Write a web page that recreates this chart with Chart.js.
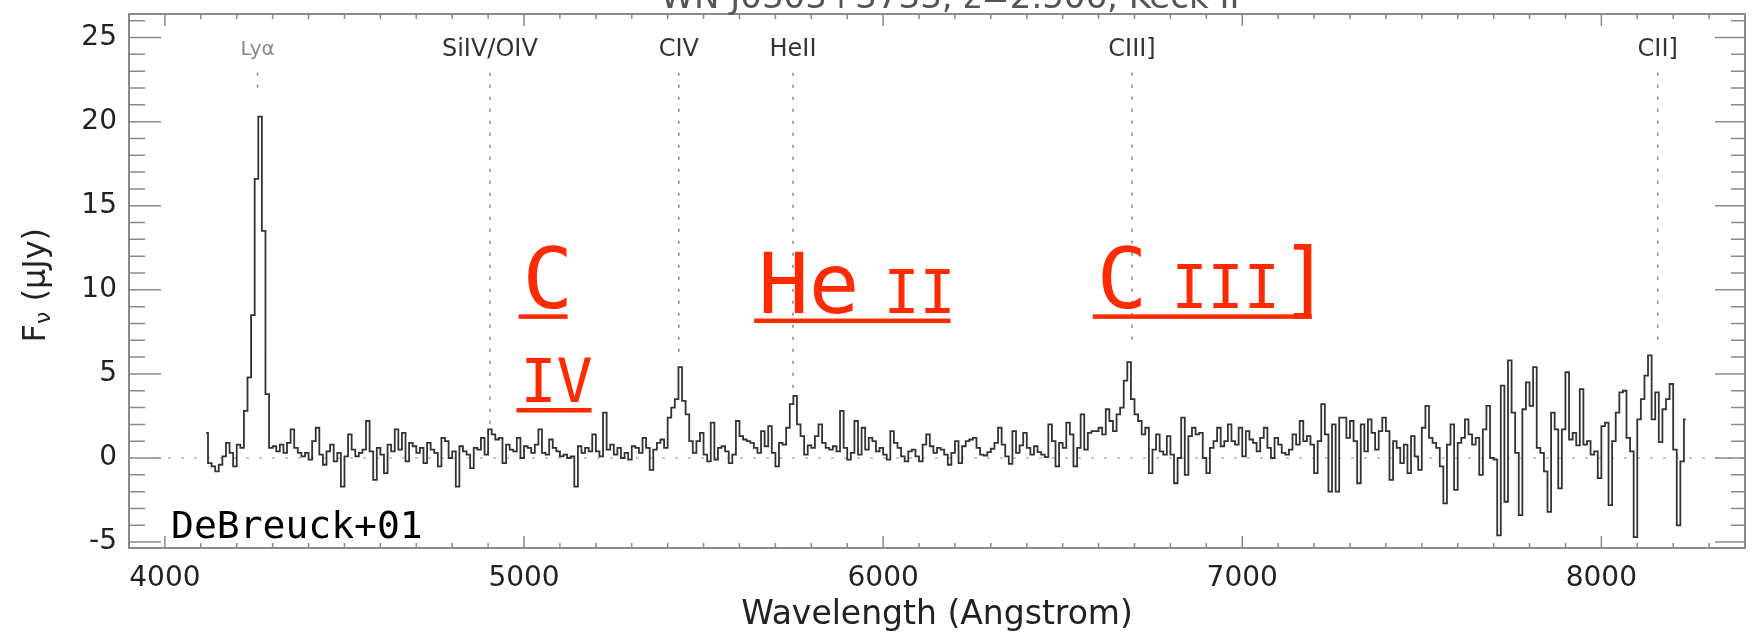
<!DOCTYPE html>
<html>
<head>
<meta charset="utf-8">
<title>Spectrum z=2.506</title>
<script src="https://cdn.jsdelivr.net/npm/chart.js@4.4.1/dist/chart.umd.min.js"></script>
<style>
  html, body { margin: 0; padding: 0; background: #fff; }
</style>
</head>
<body>
<canvas id="spec" width="1761" height="635"></canvas>
<script>
// spectrum, 10 A bins in six pieces
const binWidth = 10;

const blueStart = 4110; // Lya region
const fluxBlue = [
  1.5, -0.3, -0.5, -0.8, -0.4, 0.1, 0.9, 0.3, -0.5, 0.8,
  0.6, 2.8, 4.8, 8.5, 16.6, 20.3, 13.5, 3.8, 0.6, 0.7,
  0.4, 0.8, 0.3, 0.9, 1.7, 0.6, 0.3, 0.1, 0.3, -0.1,
  1.0, 1.8, 0.2, -0.4, 0.4, 0.8, -0.2, 0.3, -1.7, 0.1,
  1.4, 0.5, 0.1, 0.3, 0.5, 2.2, 0.4, -1.3, 0.6, 0.2,
  -0.9, 0.8, 0.4, 1.7, 0.5, 1.5, -0.2, 0.9, 0.7, 0.3,
  0.6, -0.3, 0.9, 0.5, 0.3, -0.5, 1.2, 1.0, 0.0
];

const civStart = 4800; // SiIV/OIV .. CIV
const fluxCIV = [
  0.4, -1.7, 0.7, 0.4, 0.2, -0.6, 0.6, 0.5, 1.2, 0.2,
  1.7, 1.4, 1.1, 1.2, -0.3, 0.8, 0.5, 0.4, 1.2, 0.0,
  0.7, 0.6, 0.3, 0.8, 1.7, 0.3, 0.2, 1.1, 0.6, 0.4,
  0.1, 0.2, 0.0, 0.1, -1.7, 0.7, 0.3, 0.6, 0.4, 1.4,
  0.4, 0.1, 2.7, 0.5, 0.8, 0.2, 0.6, 0.0, 0.3, -0.1,
  0.7, 0.6, 0.3, 1.2, 0.6, -0.7, 0.5, 0.9, 1.1, 0.6,
  2.4, 3.0, 3.5, 5.4, 3.4, 2.6, 1.0, 0.3, 1.0
];

const heiiStart = 5490; // HeII
const fluxHeII = [
  1.5, 0.2, -0.2, 2.1, -0.1, 0.6, 0.7, 0.4, -0.3, 0.2,
  2.2, 1.3, 1.1, 1.0, 0.9, 0.6, 0.3, 1.6, 0.7, 1.9,
  0.3, -0.5, 0.9, 0.8, 1.8, 3.2, 3.7, 2.0, 1.3, 0.2,
  0.75, 0.6, 1.3, 2.0, 0.9, 0.6, 0.5, 0.7, 0.4, 2.8,
  0.6, -0.1, 0.3, 2.2, 0.2, 1.8, 0.5, 1.2, 1.0, 0.4,
  0.6, 0.2, -0.1, 1.6, 0.9, 0.6, 0.1, -0.2, 0.4, 0.5,
  0.1, -0.2, 0.8, 1.4, 0.7, 0.3, 0.6, 0.5, 0.2, -0.4
];

const ciiiStart = 6190; // CIII]
const fluxCIII = [
  0.3, 1.0, -0.3, 0.7, 1.0, 1.1, 1.2, 0.6, 0.2, 0.15,
  0.35, 0.55, 0.9, 1.8, 0.8, 0.1, -0.35, 1.6, 0.3, 0.75,
  1.5, 0.6, 0.2, 0.7, 0.35, 0.2, 0.05, 2.0, 1.0, -0.5,
  0.9, 0.6, 2.1, 1.4, -0.5, 0.6, 2.6, 0.5, 1.5, 1.6,
  1.6, 1.8, 1.4, 2.9, 2.2, 1.6, 2.6, 3.0, 4.6, 5.7,
  3.5, 2.6, 2.2, 1.4, 1.8, -0.9, 0.5, 1.4, 0.4, 0.2,
  1.3, 0.2, -1.5, 0.0, 2.4, -1.0, 1.3, 1.8, 1.4
];

const redStart = 6880;
const fluxRed = [
  1.5, 0.0, -0.9, 0.6, 1.0, 1.8, 0.7, 1.0, 2.0, 1.0,
  0.8, 1.8, 0.1, 1.6, 1.1, 0.9, 0.4, 1.2, 1.8, 0.6,
  0.0, 1.2, 0.8, 0.3, 0.2, 0.5, 1.4, 0.8, 2.2, 1.0,
  1.3, 0.8, -0.9, 1.0, 3.2, 1.4, -2.0, 2.0, -2.0, 2.4,
  2.4, 1.2, 2.2, 1.0, -1.5, 2.0, 0.4, 2.3, 1.5, 0.5,
  1.6, 2.4, 1.6, -1.3, 1.0, 0.6, -0.3, 0.8, -0.9, 1.3,
  0.1, -0.7, 1.8, 3.1, 1.2, 0.9, 0.6, -0.5, -2.7, 0.8
];

const ciiStart = 7580; // noisy red end, CII]
const fluxCII = [
  2.0, -1.9, 0.9, 1.2, 2.3, 1.4, 0.8, 1.2, -1.0, 1.7,
  3.1, 0.0, -0.1, -4.6, 4.3, -2.6, 5.8, 2.7, 0.3, -3.4,
  2.9, 4.5, 3.1, 5.4, 0.6, 0.3, -0.8, -3.2, 2.7, 1.7,
  -1.8, 1.7, 5.1, 1.1, 1.5, 0.75, 4.1, 0.8, 1.0, 0.2,
  0.4, -1.2, 1.9, 2.1, -2.8, 1.0, 2.7, 3.9, 4.0, 1.2,
  0.4, -4.7, 2.3, 3.5, 4.9, 6.1, 2.3, 3.9, 0.95, 2.9,
  3.5, 4.4, 0.5, -4.0, -0.2, 2.3
];

// emission line markers
const lineNames = ['Lyα', 'SiIV/OIV', 'CIV', 'HeII', 'CIII]', 'CII]'];
const lineWaves = [4258, 4905, 5431, 5749, 6693, 8157];
const lineTops = [22.9, 22.9, 22.9, 22.9, 22.9, 22.9];
const lineBottoms = [21.9, 2.0, 5.9, 4.1, 6.6, 6.5];
const lineLabelLevel = 24.25;

// axes
const xRange = [3900, 8400];
const yRange = [-5.35, 26.4];
const xMajorTicks = [4000, 5000, 6000, 7000, 8000];
const yMajorTicks = [-5, 0, 5, 10, 15, 20, 25];
const xMinorStep = 100;
const yMinorStep = 1;

// hand-written notes on the slide, anchored at (wavelength, flux)
const notes = [
  { at: [4996, 8.9], runs: [['C', 84]] },
  { at: [4990, 3.33], runs: [['IV', 60]] },
  { at: [5652, 8.65], runs: [['He', 84], [' ', 40], ['II', 60]] },
  { at: [6595, 8.9], runs: [['C', 84], [' ', 40], ['III', 60], [']', 84]] }
];
const creditText = 'DeBreuck+01';
const creditAt = [4017, -4.77];
const plotTitle = 'WN J0303+3733, z=2.506, Keck II';

const segments = [
  [blueStart, fluxBlue], [civStart, fluxCIV], [heiiStart, fluxHeII],
  [ciiiStart, fluxCIII], [redStart, fluxRed], [ciiStart, fluxCII]
];
const spectrum = [];
segments.forEach(([start, flux]) => {
  flux.forEach((f, k) => spectrum.push({ x: start + binWidth * (k + 0.5), y: f }));
});

const AXIS_FONT = 'DejaVu Sans';
const NOTE_FONT = '"DejaVu Sans Mono", monospace';
const RED = '#ff2a00';

const datasets = [
  {
    data: [{ x: xRange[0], y: 0 }, { x: xRange[1], y: 0 }],
    borderColor: '#b8b8b8', borderWidth: 1.5, borderDash: [3, 10],
    pointRadius: 0, order: 3
  },
  {
    data: spectrum,
    borderColor: '#333', borderWidth: 1.8, stepped: 'middle',
    pointRadius: 0, fill: false, order: 1
  }
];
lineWaves.forEach((w, i) => {
  datasets.push({
    data: [{ x: w, y: lineTops[i] }, { x: w, y: lineBottoms[i] }],
    borderColor: '#8c8c8c', borderWidth: 1.6, borderDash: [3, 9],
    pointRadius: 0, order: 2
  });
});

const decorations = {
  id: 'decorations',
  afterDraw(chart) {
    const { ctx, chartArea: a, scales: { x, y } } = chart;
    ctx.save();

    // frame + inward ticks
    ctx.strokeStyle = '#8a8a8a';
    ctx.lineWidth = 2;
    ctx.strokeRect(a.left, a.top, a.right - a.left, a.bottom - a.top);
    ctx.lineWidth = 1.5;
    ctx.beginPath();
    for (let v = xRange[0]; v <= xRange[1]; v += xMinorStep) {
      const px = x.getPixelForValue(v);
      const len = xMajorTicks.includes(v) ? 12 : 5;
      ctx.moveTo(px, a.bottom); ctx.lineTo(px, a.bottom - len);
      ctx.moveTo(px, a.top); ctx.lineTo(px, a.top + len);
    }
    for (let v = Math.ceil(yRange[0]); v <= yRange[1]; v += yMinorStep) {
      const py = y.getPixelForValue(v);
      const major = yMajorTicks.includes(v);
      ctx.moveTo(a.left, py); ctx.lineTo(a.left + (major ? 32 : 16), py);
      ctx.moveTo(a.right, py); ctx.lineTo(a.right - (major ? 30 : 14), py);
    }
    ctx.stroke();

    // line labels
    ctx.textAlign = 'center';
    ctx.textBaseline = 'middle';
    lineNames.forEach((name, i) => {
      const small = name === 'Lyα';
      ctx.font = `${small ? 20 : 24}px ${AXIS_FONT}`;
      ctx.fillStyle = small ? '#888' : '#333';
      ctx.fillText(name, x.getPixelForValue(lineWaves[i]), y.getPixelForValue(lineLabelLevel));
    });

    // title, cut off by the top of the slide
    ctx.font = `34px ${AXIS_FONT}`;
    ctx.fillStyle = '#555';
    ctx.textBaseline = 'alphabetic';
    ctx.fillText(plotTitle, x.getPixelForValue(6186), 8);

    // y title with subscript nu
    ctx.save();
    ctx.translate(a.left - 84, y.getPixelForValue(6.87));
    ctx.rotate(-Math.PI / 2);
    ctx.textAlign = 'left';
    ctx.fillStyle = '#222';
    let tx = 0;
    [['F', 32, 0], ['ν', 22, 5], [' (μJy)', 32, 0]].forEach(([t, s, dy]) => {
      ctx.font = `${s}px ${AXIS_FONT}`;
      ctx.fillText(t, tx, dy);
      tx += ctx.measureText(t).width;
    });
    ctx.restore();

    // red notes, underlined
    ctx.textAlign = 'left';
    ctx.textBaseline = 'alphabetic';
    ctx.fillStyle = RED;
    notes.forEach(n => {
      const x0 = x.getPixelForValue(n.at[0]);
      const yb = y.getPixelForValue(n.at[1]);
      let cx = x0, right = x0;
      n.runs.forEach(([t, s]) => {
        ctx.font = `${s}px ${NOTE_FONT}`;
        ctx.fillText(t, cx, yb);
        const m = ctx.measureText(t);
        if (t.trim()) right = cx + m.actualBoundingBoxRight;
        cx += m.width;
      });
      ctx.fillRect(x0 - 4, yb + 6, right - x0 + 4, 4.5);
    });

    ctx.font = `38px ${NOTE_FONT}`;
    ctx.fillStyle = '#000';
    ctx.fillText(creditText, x.getPixelForValue(creditAt[0]), y.getPixelForValue(creditAt[1]));
    ctx.restore();
  }
};

new Chart(document.getElementById('spec'), {
  type: 'line',
  data: { datasets },
  options: {
    responsive: false,
    animation: false,
    devicePixelRatio: 1,
    layout: { padding: { top: 14, right: 16, left: 0, bottom: 0 } },
    plugins: { legend: { display: false }, tooltip: { enabled: false } },
    scales: {
      x: {
        type: 'linear', min: xRange[0], max: xRange[1],
        afterBuildTicks: s => { s.ticks = xMajorTicks.map(v => ({ value: v })); },
        afterFit: s => { s.height = 87; s.paddingLeft = 0; s.paddingRight = 0; },
        grid: { display: false, drawTicks: false },
        border: { display: false },
        ticks: {
          font: { family: AXIS_FONT, size: 28 }, color: '#222', padding: 14,
          maxRotation: 0, autoSkip: false, callback: v => String(v)
        },
        title: {
          display: true, text: 'Wavelength (Angstrom)',
          font: { family: AXIS_FONT, size: 33 }, color: '#222',
          padding: { top: 0, bottom: 0 }
        }
      },
      y: {
        type: 'linear', min: yRange[0], max: yRange[1],
        afterBuildTicks: s => { s.ticks = yMajorTicks.map(v => ({ value: v })); },
        afterFit: s => { s.width = 129; s.paddingTop = 0; s.paddingBottom = 0; },
        grid: { display: false, drawTicks: false },
        border: { display: false },
        ticks: {
          font: { family: AXIS_FONT, size: 28 }, color: '#222', padding: 12,
          autoSkip: false, callback: v => String(v)
        }
      }
    }
  },
  plugins: [decorations]
});
</script>
</body>
</html>
